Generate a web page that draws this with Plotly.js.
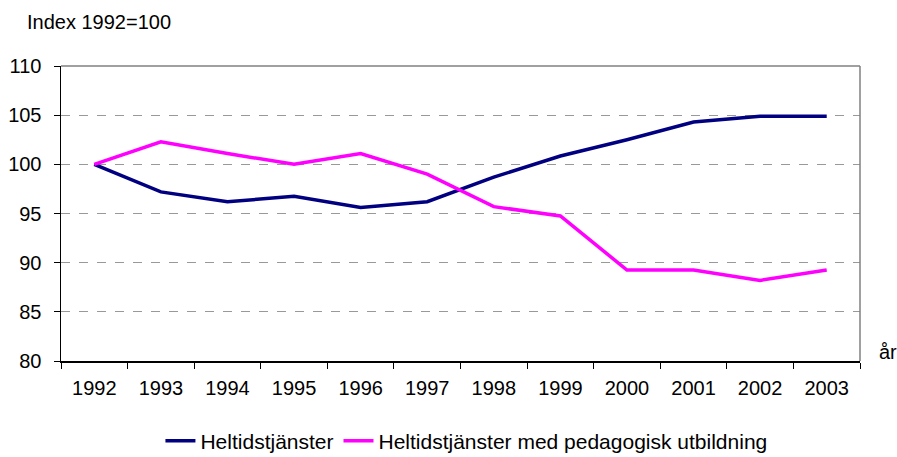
<!DOCTYPE html>
<html>
<head>
<meta charset="utf-8">
<script src="https://cdn.plot.ly/plotly-3.0.1.min.js"></script>
<style>html,body{margin:0;padding:0;background:#fff;}#chart{width:897px;height:457px;}</style>
</head>
<body>
<div id="chart"></div>
<script>
const years = ['1992','1993','1994','1995','1996','1997','1998','1999','2000','2001','2002','2003'];
const heltid = [100, 97.2, 96.2, 96.75, 95.6, 96.2, 98.7, 100.85, 102.5, 104.3, 104.9, 104.9];
const heltidPed = [100, 102.3, 101.1, 100, 101.1, 99.0, 95.7, 94.75, 89.25, 89.25, 88.2, 89.25];
const seriesNames = ['Heltidstjänster', 'Heltidstjänster med pedagogisk utbildning'];
const yTicks = [80, 85, 90, 95, 100, 105, 110];

const font = {family: 'Liberation Sans, Arial, sans-serif', size: 20, color: '#000'};
const legendFont = {family: 'Liberation Sans, Arial, sans-serif', size: 21, color: '#000'};

const traces = [
  {x: years, y: heltid, name: seriesNames[0], type: 'scatter', mode: 'lines',
   line: {color: '#000080', width: 3.5}},
  {x: years, y: heltidPed, name: seriesNames[1], type: 'scatter', mode: 'lines',
   line: {color: '#FF00FF', width: 3.5}}
];

const layout = {
  width: 897, height: 457,
  margin: {l: 61, r: 37, t: 66, b: 96, autoexpand: false},
  paper_bgcolor: '#fff', plot_bgcolor: '#fff',
  font: font,
  showlegend: true,
  legend: {orientation: 'h', x: 0.52, xanchor: 'center', xref: 'container',
           y: 0.035, yanchor: 'middle', yref: 'container',
           font: legendFont, itemwidth: 30, tracegroupgap: 0},
  xaxis: {type: 'category', tickson: 'boundaries', ticks: 'outside', ticklen: 6,
          range: [-0.5, 11.5], autorange: false,
          tickcolor: '#000', showline: true, linecolor: '#000', linewidth: 1.5,
          showgrid: false, zeroline: false, tickfont: font, ticklabelstandoff: 8},
  yaxis: {range: [80, 110], tickvals: yTicks, ticks: 'outside', ticklen: 6,
          tickcolor: '#000', showline: true, linecolor: '#000', linewidth: 1.5,
          showgrid: true, gridcolor: '#999', griddash: 'dash', gridwidth: 1,
          zeroline: false, tickfont: font, ticklabelstandoff: 8},
  shapes: [
    {type: 'line', xref: 'paper', yref: 'paper', x0: 0, x1: 1, y0: 1, y1: 1,
     line: {color: '#808080', width: 1.5}},
    {type: 'line', xref: 'paper', yref: 'paper', x0: 1, x1: 1, y0: 0, y1: 1,
     line: {color: '#808080', width: 1.5}}
  ],
  annotations: [
    {text: 'Index 1992=100', xref: 'paper', yref: 'paper', x: -0.045, y: 1.149,
     xanchor: 'left', yanchor: 'middle', showarrow: false, font: font},
    {text: 'år', xref: 'paper', yref: 'paper', x: 1.021, y: 0.03,
     xanchor: 'left', yanchor: 'middle', showarrow: false, font: font}
  ]
};

Plotly.newPlot('chart', traces, layout, {displayModeBar: false, staticPlot: true});
</script>
</body>
</html>
